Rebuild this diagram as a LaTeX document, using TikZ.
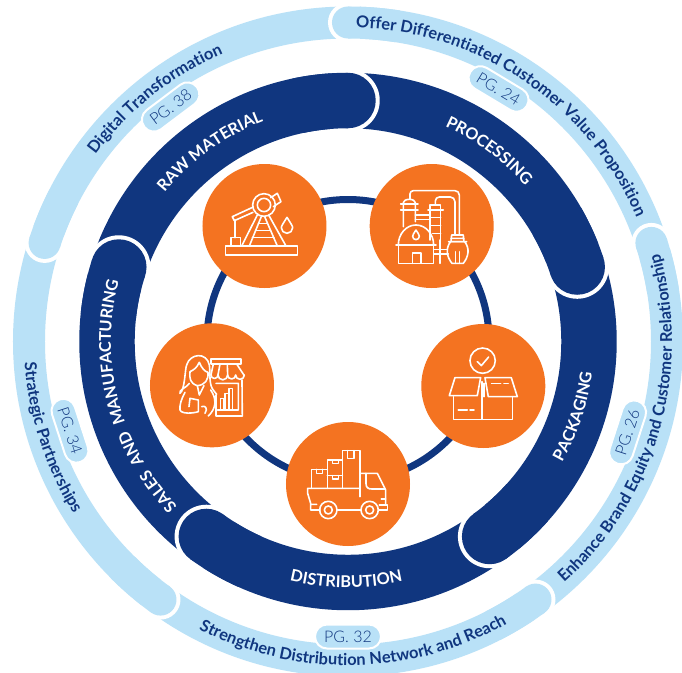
\documentclass[tikz,border=0pt]{standalone}
\usepackage{fontspec}
\usetikzlibrary{decorations.text,shapes.misc}
\setmainfont{Lato}
\newfontfamily\lightf{Lato Light}
\newfontfamily\boldf{Lato Bold}
\definecolor{navy}{HTML}{10367F}
\definecolor{sky}{HTML}{B9E1F7}
\definecolor{tang}{HTML}{F47321}
\newcommand{\ringfmt}{\boldf\fontsize{12.3pt}{14pt}\selectfont\color{navy}}
\newcommand{\bandfmt}{\boldf\fontsize{12.2pt}{14pt}\selectfont\color{white}}
% center angle, signed half span, radius, format, text
\newcommand{\arctext}[5]{\path[decorate,decoration={text along path,text align=center,text={|#4|#5}}]
  (#1+#2:#3) arc[start angle=#1+#2,end angle=#1-#2,radius=#3];}
% angle, signed repair span, radius, half width, colour
\newcommand{\capend}[5]{
  \fill[white] (#1:#3) circle[radius=#4+4];
  \fill[#5] (#1:#3) circle[radius=#4];
  \draw[#5,line width=#4*1.5pt] (#1:#3) arc[start angle=#1,end angle=#1+#2,radius=#3];}
\tikzset{
  disc/.style={circle,fill=tang,minimum size=93pt,inner sep=0pt},
  pill/.style={rounded rectangle,fill=sky,draw=white,line width=1.5pt,minimum width=49.5pt,minimum height=18pt,inner sep=0pt,
    text=navy,font=\lightf\fontsize{12pt}{14pt}\selectfont},
  icon/.style={draw=white,line width=1.2pt,line join=round,line cap=round}
}
\begin{document}
\begin{tikzpicture}[x=.75pt,y=.75pt]
\useasboundingbox (-348,341.5) rectangle (334,-330.5);
\fill[white] (-348,341.5) rectangle (334,-330.5);
\clip (-348,341.5) rectangle (334,-330.5);
% outer ring
\draw[sky,line width=24pt] (0,0) circle[radius=319];
\capend{162}{-9}{319}{16}{sky}
\capend{90}{-9}{319}{16}{sky}
\capend{18}{-9}{319}{16}{sky}
\capend{-54}{-9}{319}{16}{sky}
\capend{-126}{-9}{319}{16}{sky}
% middle ring
\draw[navy,line width=41.6pt] (0,0) circle[radius=241];
\capend{90}{12}{241}{27.75}{navy}
\capend{18}{12}{241}{27.75}{navy}
\capend{-54}{12}{241}{27.75}{navy}
\capend{-126}{12}{241}{27.75}{navy}
\capend{162}{12}{241}{27.75}{navy}
% pills
\node[pill,rotate=37]  (pg38) at (127.1:294) {PG. 38};
\node[pill,rotate=-31] (pg24) at (59.2:294) {PG. 24};
\node[pill,rotate=72]  (pg26) at (-18:294) {PG. 26};
\node[pill]            (pg32) at (-90:295) {PG. 32};
\node[pill,rotate=-72] (pg34) at (197.8:292) {PG. 34};
% ring texts
\arctext{128.5}{40}{314}{\ringfmt}{Digital Transformation}
\arctext{55.9}{50}{314}{\ringfmt}{Offer Differentiated Customer Value Proposition}
\arctext{-16.2}{-50}{324}{\ringfmt}{Enhance Brand Equity and Customer Relationship}
\arctext{-89}{-50}{324}{\ringfmt}{Strengthen Distribution Network and Reach}
\arctext{197.9}{-40}{324}{\ringfmt}{Strategic Partnerships}
% band texts
\arctext{126}{40}{236}{\bandfmt}{RAW MATERIAL}
\arctext{53.5}{40}{236}{\bandfmt}{PROCESSING}
\arctext{-18.4}{-40}{246}{\bandfmt}{PACKAGING}
\arctext{-90.4}{-40}{246}{\bandfmt}{DISTRIBUTION}
\arctext{194.6}{50}{237}{\bandfmt}{SALES{\hbox to 3pt{\hss}} AND{\hbox to 3pt{\hss}} MANUFACTURING}
% thin circle
\draw[navy,line width=5.25pt] (0,1) circle[radius=141];
% pixel frame
\begin{scope}[shift={(-348,341.5)},yscale=-1]
\node[disc] (raw)  at (264.5,226) {};
\node[disc] (proc) at (431.7,226) {};
\node[disc] (pack) at (483.3,386) {};
\node[disc] (sale) at (212,385.3) {};
\node[disc] (dist) at (348,484) {};
% icons in zoom-1 coordinates
\begin{scope}[shift={(190,160)},scale=.3333]
% pump jack
\draw[icon] (107,258) rectangle (323,285);
\draw[icon] (123,233) rectangle (152,258);
\draw[icon] (135,180) -- (135,233);
\draw[icon] (190,141) -- (127,170) -- (133,182) -- (189,157);
\draw[icon] (242,113) -- (262,100) -- (273,125) -- (250,140);
\draw[icon] (222,135) circle[radius=34];
\draw[icon] (222,135) circle[radius=20];
\draw[icon] (203,163) -- (155,258) (214,170) -- (178,258) (236,165) -- (288,258) (224,170) -- (262,258);
\draw[icon] (205,190) -- (232,190) (197,212) -- (242,212) (187,232) -- (252,232);
\draw[icon] (291,172) .. controls (280,190) and (274,198) .. (274,203) arc[start angle=180,end angle=0,radius=17] .. controls (308,198) and (302,190) .. (291,172);
% refinery
\draw[icon] (640,200) -- (640,128) arc[start angle=180,end angle=360,x radius=18,y radius=10] -- (676,185);
\draw[icon] (632,132) -- (684,132) (632,150) -- (684,150);
\draw[icon] (660,118) -- (660,102) arc[start angle=180,end angle=270,radius=10] -- (795,92) arc[start angle=270,end angle=360,radius=13] -- (808,225);
\draw[icon] (795,225) -- (795,125) arc[start angle=0,end angle=-90,radius=14] -- (748,111) arc[start angle=-90,end angle=-180,radius=12] -- (736,135);
\draw[icon] (720,240) -- (720,135) -- (752,135) -- (752,240);
\draw[icon] (714,150) -- (760,150) (720,172) -- (752,172) (720,197) -- (752,197) (728,220) -- (752,220);
\draw[icon] (676,165) -- (720,165) (676,178) -- (720,178);
\draw[icon] (625,255) arc[start angle=180,end angle=360,x radius=53,y radius=60];
\draw[icon] (618,255) -- (738,255);
\draw[icon] (625,255) -- (625,310) -- (731,310) -- (731,255);
\draw[icon] (667,310) -- (667,279) -- (693,279) -- (693,310);
\draw[icon] (678,210) .. controls (672,220) and (668,224) .. (668,229) arc[start angle=180,end angle=0,radius=10] .. controls (688,224) and (684,220) .. (678,210);
\draw[icon] (731,268) -- (772,268) (731,282) -- (775,282) (750,240) -- (750,310);
\draw[icon] (785,225) -- (820,225) -- (822,245) -- (783,245) -- cycle (783,235) -- (822,235);
\draw[icon] (776,245) -- (830,245) (782,245) .. controls (766,265) and (770,290) .. (786,310) -- (820,310) .. controls (836,290) and (840,265) .. (824,245);
\draw[icon] (796,275) -- (796,310) (808,275) -- (808,310);
\end{scope}
% icons in zoom-2 coordinates
\begin{scope}[shift={(140,315)},scale=.3333]
% box
\draw[icon] (1028,137) circle[radius=38];
\draw[icon] (1012,140) -- (1024,152) -- (1046,126);
\draw[icon] (945,188) -- (1022,188) -- (1012,242) -- (928,242) -- cycle;
\draw[icon] (1035,188) -- (1114,188) -- (1132,245) -- (1045,245) -- cycle;
\draw[icon] (940,245) -- (940,313) -- (1118,313) -- (1118,245);
\draw[icon] (1026,200) -- (1026,313) (1032,205) -- (1032,245);
\draw[icon] (955,285) -- (982,285) (990,285) -- (1002,285) (1055,205) -- (1082,205) (1092,205) -- (1105,205);
% truck
\draw[icon] (607,520) -- (607,407) -- (660,407) -- (660,545);
\draw[icon] (622,407) -- (622,430) -- (642,430) -- (642,407);
\draw[icon] (562,520) -- (562,435) -- (607,435) (562,482) -- (607,482);
\draw[icon] (577,435) -- (577,445) -- (595,445) -- (595,435) (577,482) -- (577,492) -- (595,492) -- (595,482);
\draw[icon] (515,520) -- (515,463) -- (562,463);
\draw[icon] (530,463) -- (530,475) -- (548,475) -- (548,463);
\draw[icon] (660,520) -- (503,520) -- (503,535) -- (512,565) -- (512,585) -- (540,585) (512,568) -- (530,568);
\draw[icon] (565,585) circle[radius=26] (565,585) circle[radius=12];
\draw[icon] (689,585) circle[radius=26] (689,585) circle[radius=12];
\draw[icon] (591,585) -- (663,585) (715,585) -- (743,585) -- (743,570) -- (718,570);
\draw[icon] (660,475) -- (712,475) -- (737,525) -- (737,570);
\draw[icon] (678,475) -- (678,505) .. controls (678,518) and (685,522) .. (695,522) -- (735,522);
\draw[icon] (724,552) -- (737,552);
% seller
\draw[icon] (213,132) rectangle (303,147);
\draw[icon] (220,147) -- (213,180) (240,147) -- (234,180) (262,147) -- (263,180) (290,147) -- (313,182);
\draw[icon] (213,180) arc[start angle=180,end angle=0,radius=10.5] arc[start angle=180,end angle=0,radius=14.5] arc[start angle=180,end angle=0,radius=12] arc[start angle=180,end angle=0,radius=13];
\draw[icon] (306,195) -- (307,303) -- (228,303) -- (228,240) (228,205) -- (295,205) -- (295,285) -- (232,285);
\draw[icon] (242,283) -- (242,250) -- (252,250) -- (252,283) (255,283) -- (255,235) -- (265,235) -- (265,283) (267,283) -- (267,220) -- (277,220) -- (277,283);
\draw[icon] (172,212) .. controls (150,205) and (148,190) .. (150,170) .. controls (160,165) and (170,160) .. (178,142) .. controls (185,160) and (195,170) .. (204,172) .. controls (206,195) and (195,210) .. (172,212);
\draw[icon] (148,205) .. controls (140,218) and (115,225) .. (120,235) .. controls (135,225) and (135,160) .. (140,150) .. controls (150,115) and (200,110) .. (208,150) .. controls (212,175) and (205,210) .. (222,228) -- (230,238);
\draw[icon] (172,212) -- (178,240) -- (192,212);
\draw[icon] (135,232) .. controls (125,250) and (118,270) .. (120,285) .. controls (125,298) and (160,295) .. (175,290) -- (175,255) -- (150,250) -- (147,275);
\draw[icon] (212,225) .. controls (230,250) and (230,280) .. (205,303) (185,275) .. controls (195,270) and (205,280) .. (195,295);
\end{scope}
\end{scope}
\end{tikzpicture}
\end{document}
